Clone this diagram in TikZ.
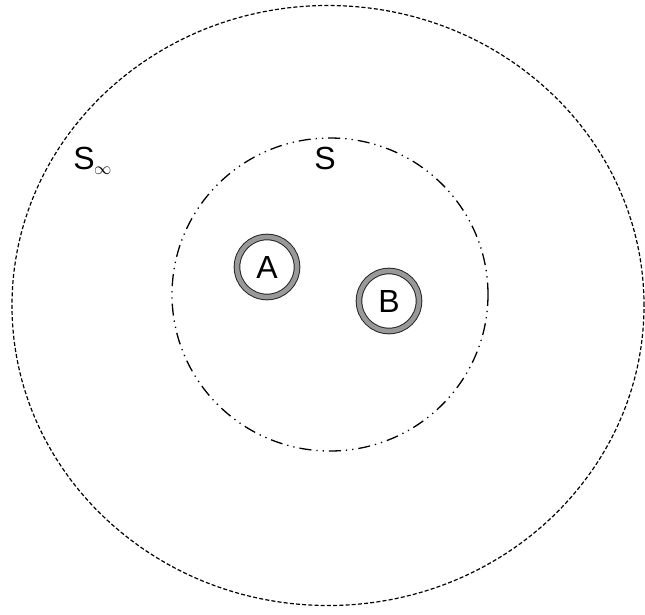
\documentclass[tikz,border=0pt]{standalone}
\usepackage{fontspec}
\setmainfont{Liberation Sans}
\usetikzlibrary{shadows}

\begin{document}
\begin{tikzpicture}[
  x=1pt, y=-1pt,
  font=\fontsize{32}{36}\selectfont,
  bnd/.style={line width=1.2pt, dash pattern=on 4pt off 2.2pt},
  srf/.style={line width=1.3pt,
              dash pattern=on 12pt off 5pt on 1.3pt off 5pt on 1.3pt off 5pt},
  ring/.style={circle, draw=black!85, line width=1pt, double=black!40,
               double distance=4.6pt, fill=white, inner sep=0pt,
               minimum size=60pt,
               drop shadow={opacity=0.18, shadow xshift=1pt, shadow yshift=-2pt}},
  lbl/.style={inner sep=0pt}
]
\useasboundingbox (0,0) rectangle (645,614);
% ---------------- surfaces ----------------
\coordinate (o) at (328,305.5);
\coordinate (c) at (330,294.5);
\draw[bnd] (o) ellipse [x radius=316pt, y radius=300pt];
\draw[srf] (c) ellipse [x radius=158pt, y radius=156.5pt];
% ---------------- labels ----------------
\node[lbl] (sinf) at (84,158) {S};
\node[lbl, anchor=west, font=\fontsize{18}{20}\selectfont] (inf) at (94,171) {$\infty$};
\node[lbl] (s) at (325,158) {S};
% ---------------- bodies ----------------
\node[ring] (A) at (267,267) {A};
\node[ring] (B) at (389,301) {B};
\end{tikzpicture}
\end{document}
